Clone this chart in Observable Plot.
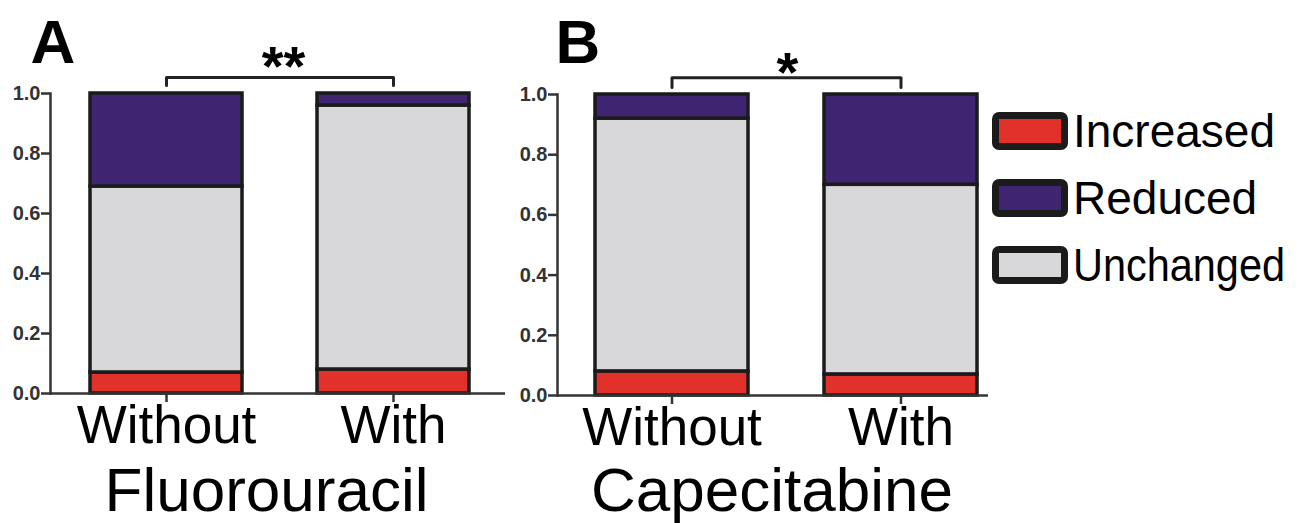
<!DOCTYPE html>
<html><head><meta charset="utf-8">
<script src="https://cdn.jsdelivr.net/npm/d3@7"></script>
<script src="https://cdn.jsdelivr.net/npm/@observablehq/plot@0.6"></script>
<style>
body{margin:0;background:#fff;}
#chart{position:relative;width:1301px;height:523px;overflow:hidden;font-family:"Liberation Sans",Arial,sans-serif;}
#chart svg{position:absolute;top:0;}
.legend{position:absolute;left:992px;top:112px;}
.item{position:absolute;left:0;display:flex;align-items:center;white-space:nowrap;}
.swatch{box-sizing:border-box;width:76px;height:38px;border:7px solid #1b1b1b;border-radius:7px;flex:none;}
.lab{display:inline-block;font-size:46px;color:#000;margin-left:5px;line-height:38px;transform-origin:left center;}
</style></head><body><div id="chart"></div>
<script>
const groups = ["Without", "With"];
const categories = ["Increased", "Reduced", "Unchanged"];
const colors = ["#e2302b", "#3e2471", "#d8d7d9"];
const stackOrder = ["Increased", "Unchanged", "Reduced"];
const yTicks = [0, 0.2, 0.4, 0.6, 0.8, 1.0];
const panelLetters = ["A", "B"];
const drugs = ["Fluorouracil", "Capecitabine"];
const significance = ["**", "*"];

const fluorouracilIncreased = [0.07, 0.08];
const fluorouracilUnchanged = [0.62, 0.88];
const fluorouracilReduced = [0.31, 0.04];

const capecitabineIncreased = [0.08, 0.07];
const capecitabineUnchanged = [0.84, 0.63];
const capecitabineReduced = [0.08, 0.30];

function rowsFor(inc, unc, red) {
  const rows = [];
  groups.forEach((g, i) => {
    rows.push({group: g, category: "Increased", value: inc[i]});
    rows.push({group: g, category: "Unchanged", value: unc[i]});
    rows.push({group: g, category: "Reduced", value: red[i]});
  });
  return rows;
}

function panel(cfg) {
  const bracket = [
    {group: groups[0], level: cfg.legY},
    {group: groups[0], level: cfg.topY},
    {group: groups[1], level: cfg.topY},
    {group: groups[1], level: cfg.legY}
  ];
  const svg = Plot.plot({
    width: cfg.width, height: 523,
    marginLeft: cfg.ml, marginRight: cfg.mr, marginTop: cfg.mt, marginBottom: cfg.mb,
    style: {fontFamily: "'Liberation Sans', Arial, sans-serif", color: "#222", background: "transparent", overflow: "visible", maxWidth: "none"},
    x: {domain: groups, range: cfg.xRange, paddingInner: cfg.pi, paddingOuter: cfg.po, label: null},
    y: {domain: [0, 1], label: null},
    color: {domain: categories, range: colors},
    marks: [
      Plot.barY(cfg.rows, {x: "group", y: "value", fill: "category", order: stackOrder, stroke: "#1b1b1b", strokeWidth: 3.5}),
      Plot.ruleY([0], {stroke: "#333", strokeWidth: 2.5}),
      Plot.frame({anchor: "left", stroke: "#333", strokeWidth: 2.5}),
      Plot.axisY({ticks: yTicks, tickFormat: d3.format(".1f"), tickSize: 9, tickPadding: 1, fontSize: 20, fontWeight: "bold", fill: "#333", stroke: "#333", strokeWidth: 2.5, label: null}),
      Plot.axisX({tickSize: 9, tickPadding: 3, fontSize: 53, fill: "#000", stroke: "#333", strokeWidth: 2.5, label: null}),
      Plot.line(bracket, {x: "group", y: "level", stroke: "#222", strokeWidth: 3}),
      Plot.text([cfg.sig], {frameAnchor: "top", lineAnchor: "bottom", dx: cfg.sigDx, dy: cfg.sigDy, fontSize: 56, fontWeight: "bold", fill: "#000"}),
      Plot.text([cfg.letter], {frameAnchor: "top-left", textAnchor: "start", lineAnchor: "bottom", dx: cfg.letDx, dy: cfg.letDy, fontSize: 62, fontWeight: "bold", fill: "#000"}),
      Plot.text([cfg.drug], {frameAnchor: "bottom", lineAnchor: "bottom", dx: cfg.drugDx, dy: cfg.drugDy, fontSize: 62, fill: "#000"})
    ]
  });
  svg.style.left = cfg.left + "px";
  return svg;
}

const chart = document.getElementById("chart");

chart.appendChild(panel({
  left: 0, width: 512, ml: 50, mr: 7, mt: 93, mb: 130,
  xRange: [50, 509.5], pi: 0.332, po: 0.176,
  rows: rowsFor(fluorouracilIncreased, fluorouracilUnchanged, fluorouracilReduced),
  topY: 1.053, legY: 1.027,
  sig: significance[0], sigDx: 5.5, sigDy: -9,
  letter: panelLetters[0], letDx: -20, letDy: -31,
  drug: drugs[0], drugDx: -11.5, drugDy: 117
}));

chart.appendChild(panel({
  left: 505, width: 490, ml: 52, mr: 7, mt: 94, mb: 128,
  xRange: [52, 510], pi: 0.3304, po: 0.1609,
  rows: rowsFor(capecitabineIncreased, capecitabineUnchanged, capecitabineReduced),
  topY: 1.056, legY: 1.023,
  sig: significance[1], sigDx: 14.5, sigDy: -4,
  letter: panelLetters[1], letDx: -2, letDy: -32,
  drug: drugs[1], drugDx: -1, drugDy: 115
}));

const legend = document.createElement("div");
legend.className = "legend";
const rowTops = [0, 67, 134];
const maxLabelWidth = 212;
categories.forEach((c, i) => {
  const item = document.createElement("div");
  item.className = "item";
  item.style.top = rowTops[i] + "px";
  const sw = document.createElement("div");
  sw.className = "swatch";
  sw.style.background = colors[i];
  const lab = document.createElement("span");
  lab.className = "lab";
  lab.textContent = c;
  item.appendChild(sw);
  item.appendChild(lab);
  legend.appendChild(item);
});
chart.appendChild(legend);
legend.querySelectorAll(".lab").forEach(el => {
  const w = el.getBoundingClientRect().width;
  if (w > maxLabelWidth) el.style.transform = `scaleX(${maxLabelWidth / w})`;
});
</script>
</body></html>
